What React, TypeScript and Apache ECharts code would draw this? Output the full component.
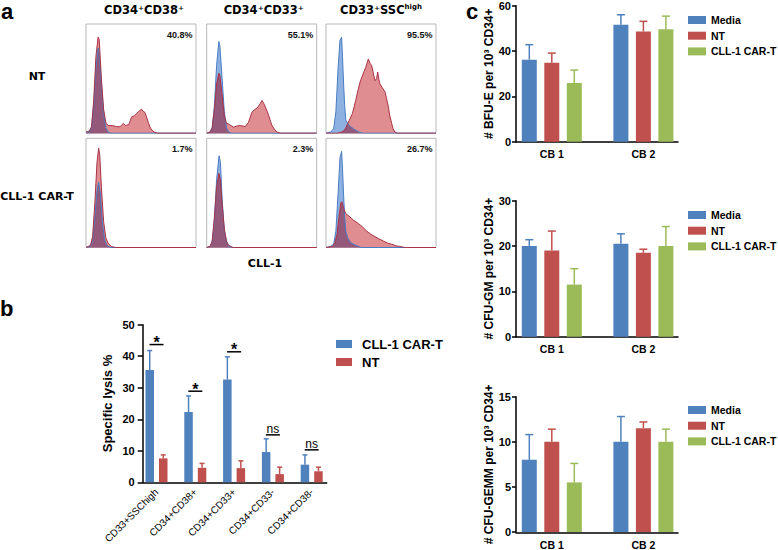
import React, { useEffect, useRef } from "react";
import * as echarts from "echarts";

// ---------- Panel a: histograms (x = % of fluorescence range, y = relative count) ----------
const histColTitles = ["{m|CD34⁺CD38⁺}", "{m|CD34⁺CD33⁺}", "{m|CD33⁺SSC}{s|high}"];
const histRowLabels = ["NT", "CLL-1 CAR-T"];
const histPercents = [
  ["40.8%", "55.1%", "95.5%"],
  ["1.7%", "2.3%", "26.7%"],
];
const histXLabel = "CLL-1";

const ntCd38Blue = [[0,0],[3,0.01],[5,0.05],[7,0.25],[9,0.6],[11,0.78],[12,0.74],[14,0.45],[16,0.18],[18,0.05],[20,0.01],[23,0],[100,0]];
const ntCd38Red = [[0,0.01],[3,0.02],[5,0.06],[7,0.3],[9,0.7],[11,0.88],[12,0.86],[14,0.5],[16,0.22],[18,0.1],[20,0.07],[24,0.07],[28,0.06],[31,0.06],[34,0.09],[36,0.07],[39,0.08],[41.5,0.15],[44,0.16],[46,0.18],[48,0.2],[50.6,0.22],[52,0.2],[53.6,0.19],[55,0.15],[56.6,0.1],[58,0.06],[59.7,0.03],[62,0.01],[65,0],[100,0]];
const ntCd33Blue = [[0,0],[3,0.01],[5,0.05],[7,0.25],[9,0.62],[11,0.84],[12,0.8],[14,0.5],[16,0.2],[18,0.05],[20,0.01],[23,0],[100,0]];
const ntCd33Red = [[0,0],[3,0.01],[5,0.05],[7,0.22],[9,0.45],[11,0.55],[12,0.53],[14,0.35],[16,0.16],[18,0.09],[19.5,0.087],[22,0.07],[24.3,0.055],[27,0.065],[30.5,0.07],[33,0.065],[35,0.06],[38,0.1],[41,0.19],[43,0.21],[45.7,0.23],[48,0.26],[50.3,0.3],[52,0.27],[53.3,0.24],[55,0.2],[56.4,0.16],[58,0.11],[59.4,0.07],[62,0.03],[64,0.01],[67,0],[100,0]];
const ntSscBlue = [[0,0],[4,0.01],[7,0.04],[9,0.2],[11,0.6],[12.7,0.85],[14.2,0.88],[15,0.7],[16,0.45],[17,0.25],[18,0.12],[21,0.07],[25,0.04],[30,0.01],[34,0],[100,0]];
const ntSscRed = [[0,0],[10,0],[14,0.01],[16,0.02],[18,0.05],[21,0.115],[24,0.18],[27,0.3],[29,0.39],[31,0.47],[34,0.55],[36,0.6],[38.5,0.68],[40,0.64],[41.5,0.62],[43,0.55],[44.5,0.48],[46,0.5],[47,0.56],[48,0.5],[49,0.45],[51,0.42],[53.6,0.38],[55,0.32],[56.7,0.24],[58,0.16],[59.7,0.09],[61,0.04],[62.7,0.01],[65,0],[100,0]];
const carCd38Blue = [[0,0],[4,0.01],[6,0.06],[8,0.28],[10,0.52],[11.5,0.6],[13,0.5],[15,0.22],[17,0.07],[19,0.02],[22,0],[100,0]];
const carCd38Red = [[0,0],[4,0.02],[6,0.1],[8,0.4],[10,0.78],[11.5,0.91],[12.5,0.85],[14,0.55],[16,0.24],[18,0.09],[20,0.04],[23,0.01],[27,0],[100,0]];
const carCd33Blue = [[0,0],[3,0.01],[5,0.05],[7,0.25],[9,0.62],[11.2,0.84],[12.5,0.78],[14,0.45],[16,0.16],[18,0.05],[20,0.01],[23,0],[100,0]];
const carCd33Red = [[0,0],[3,0.01],[5,0.06],[7,0.28],[9,0.55],[11,0.68],[12.5,0.62],[14,0.4],[16,0.17],[18,0.06],[20,0.02],[24,0],[100,0]];
const carSscBlue = [[0,0],[4,0.01],[7,0.03],[9,0.15],[11,0.5],[12.7,0.82],[14.2,0.88],[15,0.72],[16,0.48],[17,0.28],[18,0.15],[20,0.08],[23,0.04],[27,0.02],[32,0],[100,0]];
const carSscRed = [[0,0],[6,0.01],[8,0.04],[10,0.12],[12,0.3],[13.5,0.41],[14.5,0.42],[16,0.36],[18,0.31],[21.8,0.28],[25,0.25],[29.4,0.22],[33,0.19],[37,0.15],[41,0.12],[44.5,0.1],[48,0.08],[52,0.06],[56,0.04],[59.7,0.03],[64,0.015],[67,0.01],[72,0],[100,0]];

const histPanels = [
  [ntCd38Blue, ntCd38Red], [ntCd33Blue, ntCd33Red], [ntSscBlue, ntSscRed],
  [carCd38Blue, carCd38Red], [carCd33Blue, carCd33Red], [carSscBlue, carSscRed],
];

// ---------- Panel b: specific lysis ----------
const bCategories = ["CD33+SSChigh", "CD34+CD38+", "CD34+CD33+", "CD34+CD33-", "CD34+CD38-"];
const bCarT = [35.6, 22.3, 32.6, 9.6, 5.6];
const bCarTSd = [6.2, 5.1, 7.2, 4.2, 3.1];
const bNT = [7.6, 4.6, 4.5, 2.6, 3.5];
const bNTSd = [1.1, 1.4, 2.3, 2.2, 1.3];
const bSigLevel = [43.7, 28.9, 41.4, 15.05, 10.3];
const bSigLabel = ["*", "*", "*", "ns", "ns"];
const bYTicks = { min: 0, max: 50, interval: 10 };

// ---------- Panel c: colony assays ----------
const cCategories = ["CB 1", "CB 2"];
const cGroups = ["Media", "NT", "CLL-1 CAR-T"];
const bfuMedia = [36.2, 51.6];
const bfuMediaSd = [6.6, 4.4];
const bfuNT = [34.8, 48.6];
const bfuNTSd = [4.3, 4.5];
const bfuCar = [25.9, 49.6];
const bfuCarSd = [5.7, 5.8];
const gmMedia = [20, 20.5];
const gmMediaSd = [1.4, 2.2];
const gmNT = [19, 18.5];
const gmNTSd = [4.3, 0.8];
const gmCar = [11.5, 20];
const gmCarSd = [3.5, 4.3];
const gemmMedia = [8, 10];
const gemmMediaSd = [2.8, 2.8];
const gemmNT = [10, 11.5];
const gemmNTSd = [1.4, 0.7];
const gemmCar = [5.5, 10];
const gemmCarSd = [2.1, 1.4];
const cYNames = ["# BFU-E per 10³ CD34+", "# CFU-GM per 10³ CD34+", "# CFU-GEMM per 10³ CD34+"];
const cYMax = [60, 30, 15];
const cYInterval = [20, 10, 5];

// ---------- styling ----------
const BLUE = "#4f81bd";
const RED = "#c0504d";
const GREEN = "#9bbb59";
const ARIAL = 'Arial, "Liberation Sans", sans-serif';
const DEJAVU = '"DejaVu Sans", Verdana, sans-serif';

function interp(pts: number[][], x: number): number {
  if (x <= pts[0][0]) return pts[0][1];
  for (let i = 1; i < pts.length; i++) {
    if (x <= pts[i][0]) {
      const [x0, y0] = pts[i - 1];
      const [x1, y1] = pts[i];
      return y0 + ((y1 - y0) * (x - x0)) / (x1 - x0 || 1);
    }
  }
  return pts[pts.length - 1][1];
}

function overlap(a: number[][], b: number[][]): number[][] {
  const xs = Array.from(new Set([...a.map((p) => p[0]), ...b.map((p) => p[0])])).sort((p, q) => p - q);
  const out: number[][] = [];
  for (let i = 0; i < xs.length; i++) {
    const x = xs[i];
    const ya = interp(a, x);
    const yb = interp(b, x);
    if (i > 0) {
      const x0 = xs[i - 1];
      const d0 = interp(a, x0) - interp(b, x0);
      const d1 = ya - yb;
      if (d0 * d1 < 0) {
        const xc = x0 + (d0 / (d0 - d1)) * (x - x0);
        out.push([xc, interp(a, xc)]);
      }
    }
    out.push([x, Math.min(ya, yb)]);
  }
  return out;
}

function buildOption() {
  const grid: any[] = [];
  const xAxis: any[] = [];
  const yAxis: any[] = [];
  const series: any[] = [];
  const graphic: any[] = [];

  // ---- panel a ----
  const colLeft = [86, 206.7, 326];
  const colWidth = 110;
  const rowTop = [24, 138.3];
  const rowHeight = 109.2;
  histPanels.forEach((pair, k) => {
    const r = Math.floor(k / 3);
    const c = k % 3;
    grid.push({
      left: colLeft[c], top: rowTop[r], width: colWidth, height: rowHeight,
      show: true, borderColor: "#b8b8b8", borderWidth: 1, backgroundColor: "#fff",
    });
    xAxis.push({ gridIndex: k, type: "value", min: 0, max: 100, show: false });
    yAxis.push({ gridIndex: k, type: "value", min: 0, max: 1, show: false });
    const [blue, red] = pair;
    const base = { type: "line", xAxisIndex: k, yAxisIndex: k, symbol: "none", silent: true };
    series.push({ ...base, data: blue, lineStyle: { color: "#4a7cc2", width: 1 }, areaStyle: { color: "#8db2e2", opacity: 1 } });
    series.push({ ...base, data: red, lineStyle: { opacity: 0 }, areaStyle: { color: "#df8d91", opacity: 1 } });
    series.push({ ...base, data: overlap(blue, red), lineStyle: { opacity: 0 }, areaStyle: { color: "#93587a", opacity: 1 } });
    series.push({ ...base, data: red, lineStyle: { color: "#a83347", width: 1 } });

    graphic.push({
      type: "text", x: colLeft[c] + colWidth - 3.5, y: rowTop[r] + 10.5, silent: true,
      style: {
        text: histPercents[r][c], fill: "#111", align: "right", verticalAlign: "middle",
        fontFamily: ARIAL, fontWeight: "bold", fontSize: 9,
      },
    });
  });
  histColTitles.forEach((t, c) => {
    graphic.push({
      type: "text", x: colLeft[c] + colWidth / 2 + (c === 0 ? 3 : c === 1 ? 2 : 0), y: 10, silent: true,
      style: {
        text: t, align: "center", verticalAlign: "middle",
        rich: {
          m: { fontFamily: DEJAVU, fontWeight: "bold", fontSize: 11.5, fill: "#000", lineHeight: 14 },
          s: { fontFamily: DEJAVU, fontWeight: "bold", fontSize: 7, fill: "#000", verticalAlign: "top", lineHeight: 14, padding: [0, 0, 4, 0] },
        },
      },
    });
  });
  histRowLabels.forEach((t, r) => {
    graphic.push({
      type: "text", x: 37, y: r === 0 ? 76 : 196, silent: true,
      style: { text: t, align: "center", verticalAlign: "middle", fontFamily: DEJAVU, fontWeight: "bold", fontSize: 11, fill: "#000" },
    });
  });
  graphic.push({
    type: "text", x: 265, y: 263, silent: true,
    style: { text: histXLabel, align: "center", verticalAlign: "middle", fontFamily: DEJAVU, fontWeight: "bold", fontSize: 11, fill: "#000" },
  });

  // panel letters
  [["a", 1, 0, "top"], ["b", 0, 308, "middle"], ["c", 466, 0, "top"]].forEach(([t, x, y, va]) => {
    graphic.push({
      type: "text", x, y, silent: true,
      style: { text: t, align: "left", verticalAlign: va, fontFamily: ARIAL, fontWeight: "bold", fontSize: 22, fill: "#000" },
    });
  });

  const axisLineStyle = { color: "#000", width: 1.5 };
  const lineOnlyAxis = (gi: number) => {
    xAxis.push({
      gridIndex: gi, type: "value", min: 0, max: 1,
      axisLine: { show: true, lineStyle: axisLineStyle }, axisTick: { show: false },
      axisLabel: { show: false }, splitLine: { show: false },
    });
    yAxis.push({ gridIndex: gi, type: "value", min: 0, max: 1, show: false });
  };

  const errRender = (offsets: number[], colors: string[], capHalf: number) => (params: any, api: any) => {
    const cat = api.value(0);
    const mean = api.value(1);
    const top = api.value(2);
    const g = api.value(3);
    const p0 = api.coord([cat, mean]);
    const p1 = api.coord([cat, top]);
    const x = p0[0] + offsets[g];
    const st = { stroke: colors[g], lineWidth: 1.5 };
    return {
      type: "group",
      children: [
        { type: "line", shape: { x1: x, y1: p0[1], x2: x, y2: p1[1] }, style: st },
        { type: "line", shape: { x1: x - capHalf, y1: p1[1], x2: x + capHalf, y2: p1[1] }, style: st },
      ],
    };
  };

  // ---- panel b ----
  const gb = grid.length;
  grid.push({ left: 137.1, top: 324.7, width: 194, height: 157.6 });
  xAxis.push({
    gridIndex: gb, type: "category", data: bCategories,
    axisLine: { show: false }, axisTick: { show: false },
    axisLabel: { rotate: 45, interval: 0, fontSize: 10, fontFamily: ARIAL, color: "#000", margin: 8 },
  });
  yAxis.push({
    gridIndex: gb, type: "value", ...bYTicks, offset: -5.6,
    axisLine: { show: true, lineStyle: axisLineStyle },
    axisTick: { show: true, length: 5, lineStyle: axisLineStyle },
    axisLabel: { fontSize: 11, fontWeight: "bold", fontFamily: ARIAL, color: "#000", margin: 8 },
    splitLine: { show: false },
    name: "Specific lysis %", nameLocation: "middle", nameGap: 29,
    nameTextStyle: { fontSize: 13, fontWeight: "bold", fontFamily: ARIAL, color: "#000" },
  });
  series.push({ type: "bar", name: "CLL-1 CAR-T", xAxisIndex: gb, yAxisIndex: gb, data: bCarT, barWidth: 8.5, barGap: "59%", itemStyle: { color: BLUE } });
  series.push({ type: "bar", name: "NT", xAxisIndex: gb, yAxisIndex: gb, data: bNT, barWidth: 8.5, barGap: "59%", itemStyle: { color: RED } });
  const bErr: number[][] = [];
  bCarT.forEach((v, i) => bErr.push([i, v, v + bCarTSd[i], 0]));
  bNT.forEach((v, i) => bErr.push([i, v, v + bNTSd[i], 1]));
  series.push({
    type: "custom", xAxisIndex: gb, yAxisIndex: gb, data: bErr, silent: true,
    renderItem: errRender([-6.75, 6.75], [BLUE, RED], 2.5),
  });
  series.push({
    type: "custom", xAxisIndex: gb, yAxisIndex: gb, silent: true,
    data: bSigLevel.map((v, i) => [i, v]),
    renderItem: (params: any, api: any) => {
      const p = api.coord([api.value(0), api.value(1)]);
      const lab = bSigLabel[params.dataIndex];
      const star = lab === "*";
      return {
        type: "group",
        children: [
          { type: "line", shape: { x1: p[0] - 7, y1: p[1], x2: p[0] + 7, y2: p[1] }, style: { stroke: "#000", lineWidth: 1.5 } },
          {
            type: "text", x: p[0], y: star ? p[1] + 6 : p[1] + 0.5,
            style: {
              text: lab, align: "center", verticalAlign: "bottom", fill: "#000",
              fontFamily: ARIAL, fontWeight: star ? "bold" : "normal", fontSize: star ? 16 : 12,
            },
          },
        ],
      };
    },
  });
  const gbl = grid.length;
  grid.push({ left: 142.7, top: 324.7, width: 184, height: 157.6 });
  lineOnlyAxis(gbl);

  // ---- panel c ----
  const cData = [
    [[bfuMedia, bfuMediaSd], [bfuNT, bfuNTSd], [bfuCar, bfuCarSd]],
    [[gmMedia, gmMediaSd], [gmNT, gmNTSd], [gmCar, gmCarSd]],
    [[gemmMedia, gemmMediaSd], [gemmNT, gemmNTSd], [gemmCar, gemmCarSd]],
  ];
  const cTops = [5.7, 200.7, 396.7];
  const cHeights = [136, 136, 135.6];
  const cColors = [BLUE, RED, GREEN];
  cData.forEach((groups, ci) => {
    const gi = grid.length;
    grid.push({ left: 506, top: cTops[ci], width: 183.2, height: cHeights[ci] });
    xAxis.push({
      gridIndex: gi, type: "category", data: cCategories,
      axisLine: { show: false }, axisTick: { show: false },
      axisLabel: { fontSize: 10.5, fontWeight: "bold", fontFamily: ARIAL, color: "#000", margin: 7 },
    });
    yAxis.push({
      gridIndex: gi, type: "value", min: 0, max: cYMax[ci], interval: cYInterval[ci], offset: -10,
      axisLine: { show: true, lineStyle: axisLineStyle },
      axisTick: { show: true, length: 4, lineStyle: axisLineStyle },
      axisLabel: { fontSize: 11, fontWeight: "bold", fontFamily: ARIAL, color: "#000", margin: 5 },
      splitLine: { show: false },
      name: cYNames[ci], nameLocation: "middle", nameGap: 19,
      nameTextStyle: { fontSize: 12, fontWeight: "bold", fontFamily: ARIAL, color: "#000" },
    });
    const err: number[][] = [];
    groups.forEach(([vals, sds], g) => {
      series.push({
        type: "bar", name: cGroups[g], xAxisIndex: gi, yAxisIndex: gi, data: vals,
        barWidth: 15, barGap: "50%", itemStyle: { color: cColors[g] },
      });
      vals.forEach((v, i) => err.push([i, v, v + sds[i], g]));
    });
    series.push({
      type: "custom", xAxisIndex: gi, yAxisIndex: gi, data: err, silent: true,
      renderItem: errRender([-22.5, 0, 22.5], cColors, 4),
    });
    const gl = grid.length;
    grid.push({ left: 516, top: cTops[ci], width: 162, height: cHeights[ci] });
    lineOnlyAxis(gl);
  });

  const legendText = { fontFamily: ARIAL, fontWeight: "bold", color: "#000" };
  const legend: any[] = [
    {
      left: 331, top: 332.5, orient: "vertical", icon: "rect", itemWidth: 16, itemHeight: 8, itemGap: 5,
      selectedMode: false,
      textStyle: { ...legendText, fontSize: 13, lineHeight: 13, padding: [0, 0, 0, 5] },
      data: [
        { name: "CLL-1 CAR-T", itemStyle: { color: BLUE } },
        { name: "NT", itemStyle: { color: RED } },
      ],
    },
  ];
  [9.5, 204.5, 399.5].forEach((top) => {
    legend.push({
      left: 683, top, orient: "vertical", icon: "rect", itemWidth: 18, itemHeight: 8, itemGap: 4.7,
      selectedMode: false,
      textStyle: { ...legendText, fontSize: 10.5, lineHeight: 11 },
      data: cGroups.map((n, g) => ({ name: n, itemStyle: { color: cColors[g] } })),
    });
  });

  return {
    animation: false,
    backgroundColor: "#fff",
    textStyle: { fontFamily: ARIAL },
    grid, xAxis, yAxis, series, legend, graphic,
  };
}

export default function App() {
  const ref = useRef<HTMLDivElement>(null);
  useEffect(() => {
    if (!ref.current) return;
    const chart = echarts.init(ref.current, undefined, { renderer: "svg" });
    chart.setOption(buildOption() as any);
    return () => chart.dispose();
  }, []);
  return <div ref={ref} style={{ position: "fixed", left: 0, top: 0, width: 778, height: 550 }} />;
}
